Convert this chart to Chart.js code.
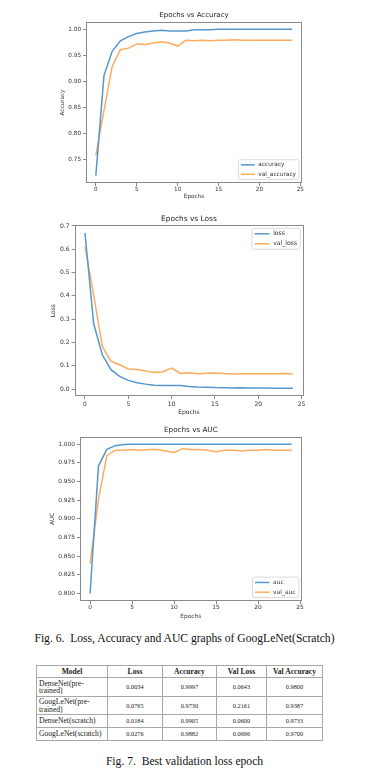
<!DOCTYPE html>
<html>
<head>
<meta charset="utf-8">
<script src="https://cdn.jsdelivr.net/npm/chart.js@4.4.1/dist/chart.umd.min.js"></script>
<style>
  body { margin: 0; background: #fff; width: 369px; height: 776px; position: relative; overflow: hidden; }
  canvas { position: absolute; left: 0; }
  .cap { position: absolute; left: 0; width: 369px; text-align: center; font-family: 'Liberation Serif', 'Times New Roman', serif;
         font-size: 11.6px; line-height: 14px; color: #111; white-space: pre; }
  #tbl { position: absolute; left: 36px; top: 665px; border-collapse: collapse; table-layout: fixed;
         font-family: 'Liberation Serif', 'Times New Roman', serif; color: #222; }
  #tbl td, #tbl th { border: 1px solid #a8a8a8; padding: 0 2px; }
  #tbl th { font-size: 7.6px; font-weight: bold; text-align: center; line-height: 8px; }
  #tbl td { font-size: 6.3px; text-align: center; line-height: 7.4px; }
  #tbl td.name { font-size: 7.6px; text-align: left; padding-right: 4px; }
</style>
</head>
<body>
<canvas id="accChart" width="369" height="205"></canvas>
<canvas id="lossChart" width="369" height="215"></canvas>
<canvas id="aucChart" width="369" height="205"></canvas>
<div class="cap" style="top:632px">Fig. 6.  Loss, Accuracy and AUC graphs of GoogLeNet(Scratch)</div>
<table id="tbl"></table>
<div class="cap" style="top:755px">Fig. 7.  Best validation loss epoch</div>

<script>
const epochs = [0, 1, 2, 3, 4, 5, 6, 7, 8, 9, 10, 11, 12, 13, 14, 15, 16, 17, 18, 19, 20, 21, 22, 23, 24];

const accuracy = [0.720, 0.912, 0.958, 0.978, 0.986, 0.992, 0.995, 0.997, 0.998, 0.997, 0.997, 0.997, 0.999, 0.999, 0.999,
  1.000, 1.000, 1.000, 1.000, 1.000, 1.000, 1.000, 1.000, 1.000, 1.000];
const valAccuracy = [0.759, 0.845, 0.929, 0.961, 0.964, 0.972, 0.971, 0.974, 0.976, 0.974, 0.968, 0.979, 0.978, 0.979, 0.978,
  0.979, 0.979, 0.980, 0.979, 0.979, 0.979, 0.979, 0.979, 0.979, 0.979];

const loss = [0.670, 0.280, 0.147, 0.083, 0.054, 0.037, 0.027, 0.021, 0.016, 0.015, 0.015, 0.015, 0.011, 0.009, 0.008,
  0.006, 0.005, 0.004, 0.005, 0.004, 0.004, 0.004, 0.003, 0.003, 0.003];
const valLoss = [0.611, 0.404, 0.183, 0.119, 0.104, 0.086, 0.084, 0.077, 0.071, 0.074, 0.090, 0.067, 0.070, 0.066, 0.068,
  0.069, 0.067, 0.065, 0.066, 0.066, 0.066, 0.066, 0.066, 0.067, 0.066];

const auc = [0.800, 0.971, 0.993, 0.998, 0.9995, 1.000, 1.000, 1.000, 1.000, 1.000, 1.000, 1.000, 1.000, 1.000, 1.000,
  1.000, 1.000, 1.000, 1.000, 1.000, 1.000, 1.000, 1.000, 1.000, 1.000];
const valAuc = [0.840, 0.926, 0.985, 0.992, 0.992, 0.993, 0.992, 0.993, 0.993, 0.991, 0.989, 0.994, 0.993, 0.993, 0.992,
  0.990, 0.992, 0.992, 0.991, 0.992, 0.992, 0.993, 0.992, 0.992, 0.992];

const epochTicks = [0, 5, 10, 15, 20, 25];
const accTicks = [0.75, 0.80, 0.85, 0.90, 0.95, 1.00];
const lossTicks = [0.0, 0.1, 0.2, 0.3, 0.4, 0.5, 0.6, 0.7];
const aucTicks = [0.800, 0.825, 0.850, 0.875, 0.900, 0.925, 0.950, 0.975, 1.000];

// table of fig. 7
const tableHeader = ['Model', 'Loss', 'Accuracy', 'Val Loss', 'Val Accuracy'];
const models = ['DenseNet(pre-trained)', 'GoogLeNet(pre-trained)', 'DenseNet(scratch)', 'GoogLeNet(scratch)'];
const bestLoss = ['0.0034', '0.0765', '0.0184', '0.0276'];
const bestAcc = ['0.9997', '0.9730', '0.9905', '0.9882'];
const bestValLoss = ['0.0643', '0.2161', '0.0600', '0.0696'];
const bestValAcc = ['0.9800', '0.9387', '0.9733', '0.9700'];

const BLUE = '#5597cf';
const ORANGE = '#fcac5e';
const FONT = 'DejaVu Sans';

function points(values) {
  return values.map((v, i) => ({ x: epochs[i], y: v }));
}

// axes box on all four sides, like matplotlib spines
const frame = {
  id: 'frame',
  afterDatasetsDraw(chart) {
    const a = chart.chartArea;
    const ctx = chart.ctx;
    ctx.save();
    ctx.strokeStyle = '#8a8a8a';
    ctx.lineWidth = 1;
    ctx.strokeRect(Math.round(a.left) + 0.5, Math.round(a.top) + 0.5,
      Math.round(a.right - a.left) - 1, Math.round(a.bottom - a.top) - 1);
    ctx.restore();
  }
};

// legend drawn inside the axes
const boxLegend = {
  id: 'boxLegend',
  afterDraw(chart, args, opts) {
    const a = chart.chartArea;
    const ctx = chart.ctx;
    const k = opts.k;
    const size = 5.8 * k;
    const sets = chart.data.datasets;
    ctx.save();
    ctx.font = size + 'px "' + FONT + '"';
    const textW = Math.max(...sets.map(d => ctx.measureText(d.label).width));
    const row = 9.4 * k;
    const w = 2.5 * k + 14 * k + 3.5 * k + textW + 3 * k;
    const h = row * sets.length + 1;
    const x = a.right - 3 - w;
    const y = opts.corner === 'upper right' ? a.top + 3 : a.bottom - 3.5 - h;
    ctx.fillStyle = 'rgba(255,255,255,0.85)';
    ctx.strokeStyle = '#d2d2d2';
    ctx.lineWidth = 0.8;
    ctx.beginPath();
    ctx.roundRect(x, y, w, h, 2);
    ctx.fill();
    ctx.stroke();
    sets.forEach((d, i) => {
      const cy = y + 0.5 + row / 2 + i * row;
      ctx.strokeStyle = d.borderColor;
      ctx.lineWidth = 1.5;
      ctx.beginPath();
      ctx.moveTo(x + 2.5 * k, cy);
      ctx.lineTo(x + 16.5 * k, cy);
      ctx.stroke();
      ctx.fillStyle = '#333';
      ctx.textBaseline = 'middle';
      ctx.textAlign = 'left';
      ctx.fillText(d.label, x + 20 * k, cy);
    });
    ctx.restore();
  }
};

function drawChart(id, c) {
  const k = c.k;
  const small = { family: FONT, size: 5.7 * k, lineHeight: 1.2 };
  const titleSize = 7 * k;
  const titleLh = titleSize * 1.2;
  const titlePadTop = c.titleY - titleLh / 2;
  const canvas = document.getElementById(id);
  canvas.style.top = c.top + 'px';
  const gridOpts = { display: true, drawOnChartArea: false, drawTicks: true, tickLength: 3, tickColor: '#8a8a8a', tickWidth: 1 };

  new Chart(canvas, {
    type: 'line',
    data: {
      datasets: c.series.map(s => ({
        label: s.label,
        data: points(s.values),
        borderColor: s.color,
        backgroundColor: s.color,
        borderWidth: 1.5,
        pointRadius: 0,
        tension: 0,
        fill: false
      }))
    },
    options: {
      responsive: false,
      animation: false,
      devicePixelRatio: 1,
      layout: { padding: { left: 0, top: 0, right: 369 - c.area.right, bottom: 0 } },
      plugins: {
        legend: { display: false },
        tooltip: { enabled: false },
        title: {
          display: true,
          text: c.title,
          fullSize: false,
          color: '#222',
          font: { family: FONT, size: titleSize, lineHeight: 1.2, weight: 'normal' },
          padding: { top: titlePadTop, bottom: c.area.top - titlePadTop - titleLh }
        },
        boxLegend: { corner: c.legend, k: k }
      },
      scales: {
        x: {
          type: 'linear',
          min: -1.2,
          max: 25.2,
          afterBuildTicks: s => { s.ticks = epochTicks.map(v => ({ value: v })); },
          afterFit: s => { s.height = c.height - c.area.bottom; },
          grid: gridOpts,
          border: { display: false },
          ticks: {
            color: '#333',
            font: small,
            maxRotation: 0,
            padding: Math.max(0, c.xTickY - c.area.bottom - 3 - small.size * 0.6),
            callback: v => String(v)
          },
          title: {
            display: true,
            text: 'Epochs',
            color: '#333',
            font: small,
            padding: { top: 0, bottom: c.height - c.xTitleY - small.size * 0.6 }
          }
        },
        y: {
          type: 'linear',
          min: c.yMin,
          max: c.yMax,
          afterBuildTicks: s => { s.ticks = c.yTicks.map(v => ({ value: v })); },
          afterFit: s => { s.width = c.area.left; },
          grid: gridOpts,
          border: { display: false },
          ticks: {
            color: '#333',
            font: small,
            padding: 2,
            callback: v => Number(v).toFixed(c.digits)
          },
          title: {
            display: true,
            text: c.ylabel,
            color: '#333',
            font: small,
            padding: { top: c.ylabelX - small.size * 0.6, bottom: 0 }
          }
        }
      }
    },
    plugins: [frame, boxLegend]
  });
}

drawChart('accChart', {
  top: 0, height: 205, k: 1,
  area: { left: 86, top: 22, right: 302, bottom: 183 },
  titleY: 15, ylabelX: 63, xTickY: 189.5, xTitleY: 197,
  title: 'Epochs vs Accuracy', ylabel: 'Accuracy',
  yMin: 0.706, yMax: 1.014, yTicks: accTicks, digits: 2,
  legend: 'lower right',
  series: [
    { label: 'accuracy', values: accuracy, color: BLUE },
    { label: 'val_accuracy', values: valAccuracy, color: ORANGE }
  ]
});

drawChart('lossChart', {
  top: 205, height: 215, k: 1.06,
  area: { left: 74.6, top: 20.3, right: 303.3, bottom: 191 },
  titleY: 14, ylabelX: 53.3, xTickY: 199, xTitleY: 207.5,
  title: 'Epochs vs Loss', ylabel: 'Loss',
  yMin: -0.030, yMax: 0.703, yTicks: lossTicks, digits: 1,
  legend: 'upper right',
  series: [
    { label: 'loss', values: loss, color: BLUE },
    { label: 'val_loss', values: valLoss, color: ORANGE }
  ]
});

drawChart('aucChart', {
  top: 420, height: 205, k: 1.03,
  area: { left: 80, top: 16.7, right: 301.7, bottom: 181 },
  titleY: 10, ylabelX: 52, xTickY: 187.5, xTitleY: 196,
  title: 'Epochs vs AUC', ylabel: 'AUC',
  yMin: 0.790, yMax: 1.010, yTicks: aucTicks, digits: 3,
  legend: 'lower right',
  series: [
    { label: 'auc', values: auc, color: BLUE },
    { label: 'val_auc', values: valAuc, color: ORANGE }
  ]
});

// table
const tbl = document.getElementById('tbl');
const colWidths = [71, 55, 54, 50, 56];
const rowHeights = [12, 19, 18, 12.5, 13.5];
const colgroup = document.createElement('colgroup');
colWidths.forEach(w => {
  const col = document.createElement('col');
  col.style.width = w + 'px';
  colgroup.appendChild(col);
});
tbl.appendChild(colgroup);
const head = document.createElement('tr');
head.style.height = rowHeights[0] + 'px';
tableHeader.forEach(t => {
  const th = document.createElement('th');
  th.textContent = t;
  head.appendChild(th);
});
tbl.appendChild(head);
models.forEach((m, i) => {
  const tr = document.createElement('tr');
  tr.style.height = rowHeights[i + 1] + 'px';
  [m, bestLoss[i], bestAcc[i], bestValLoss[i], bestValAcc[i]].forEach((v, j) => {
    const td = document.createElement('td');
    td.textContent = v;
    if (j === 0) td.className = 'name';
    tr.appendChild(td);
  });
  tbl.appendChild(tr);
});
</script>
</body>
</html>
